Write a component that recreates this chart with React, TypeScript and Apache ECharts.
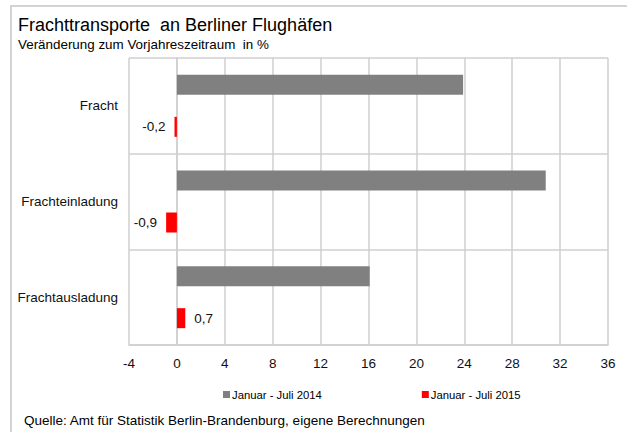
import React, { useEffect, useRef } from "react";
import * as echarts from "echarts";

const categories = ["Fracht", "Frachteinladung", "Frachtausladung"];
const series2014 = [23.9, 30.8, 16.1];
const series2015 = [-0.2, -0.9, 0.7];
const seriesNames = ["Januar - Juli 2014", "Januar - Juli 2015"];
const xMin = -4;
const xMax = 36;
const xInterval = 4;

const FONT = "'Liberation Sans', Arial, sans-serif";

export default function App() {
  const ref = useRef<HTMLDivElement>(null);
  useEffect(() => {
    document.body.style.margin = "0";
    const chart = echarts.init(ref.current!, null, { renderer: "svg" });
    chart.setOption({
      animation: false,
      backgroundColor: "#ffffff",
      textStyle: { fontFamily: FONT },
      title: [
        {
          text: "Frachttransporte  an Berliner Flughäfen",
          left: 13,
          top: 11,
          textStyle: { fontFamily: FONT, fontSize: 18, fontWeight: "normal", color: "#000" },
        },
        {
          text: "Veränderung zum Vorjahreszeitraum  in %",
          left: 13,
          top: 33,
          textStyle: { fontFamily: FONT, fontSize: 13.4, fontWeight: "normal", color: "#000" },
        },
        {
          text: "Quelle: Amt für Statistik Berlin-Brandenburg, eigene Berechnungen",
          left: 19,
          top: 408,
          textStyle: { fontFamily: FONT, fontSize: 13.5, fontWeight: "normal", color: "#000" },
        },
      ],
      graphic: [
        { type: "rect", shape: { x: 10, y: 5, width: 617, height: 2 }, style: { fill: "#d3d3d3" }, silent: true },
        { type: "rect", shape: { x: 10, y: 5, width: 2, height: 427 }, style: { fill: "#d3d3d3" }, silent: true },
      ],
      legend: {
        left: 218,
        top: 384,
        itemWidth: 7,
        itemHeight: 7,
        itemGap: 100,
        icon: "rect",
        textStyle: { fontFamily: FONT, fontSize: 11.3, color: "#000", padding: [0, 0, 0, -3] },
        data: seriesNames,
      },
      grid: { left: 129, right: 19, top: 58, bottom: 87 },
      xAxis: {
        type: "value",
        min: xMin,
        max: xMax,
        interval: xInterval,
        axisLine: { show: true, lineStyle: { color: "#cfcfcf", width: 1.5 } },
        axisTick: { show: false },
        splitLine: { show: true, lineStyle: { color: "#cfcfcf", width: 1.5 } },
        axisLabel: { fontFamily: FONT, fontSize: 13.5, color: "#111", margin: 11 },
      },
      yAxis: {
        type: "category",
        inverse: true,
        data: categories,
        axisLine: { show: true, lineStyle: { color: "#cfcfcf", width: 1.5 } },
        axisTick: { show: false },
        splitLine: { show: true, lineStyle: { color: "#cfcfcf", width: 1.5 } },
        axisLabel: { fontFamily: FONT, fontSize: 13.5, color: "#111", margin: 11 },
      },
      series: [
        {
          name: seriesNames[0],
          type: "bar",
          data: series2014,
          barWidth: 20,
          barGap: "110%",
          itemStyle: { color: "#808080" },
        },
        {
          name: seriesNames[1],
          type: "bar",
          data: series2015.map((v) => ({
            value: v,
            label: { position: v < 0 ? "left" : "right" },
          })),
          barWidth: 20,
          itemStyle: { color: "#ff0000" },
          label: {
            show: true,
            distance: 9,
            fontFamily: FONT,
            fontSize: 13.5,
            color: "#111",
            formatter: (p: any) => String(p.value).replace(".", ","),
          },
        },
      ],
    });
    return () => chart.dispose();
  }, []);
  return <div ref={ref} style={{ width: 627, height: 432 }} />;
}
